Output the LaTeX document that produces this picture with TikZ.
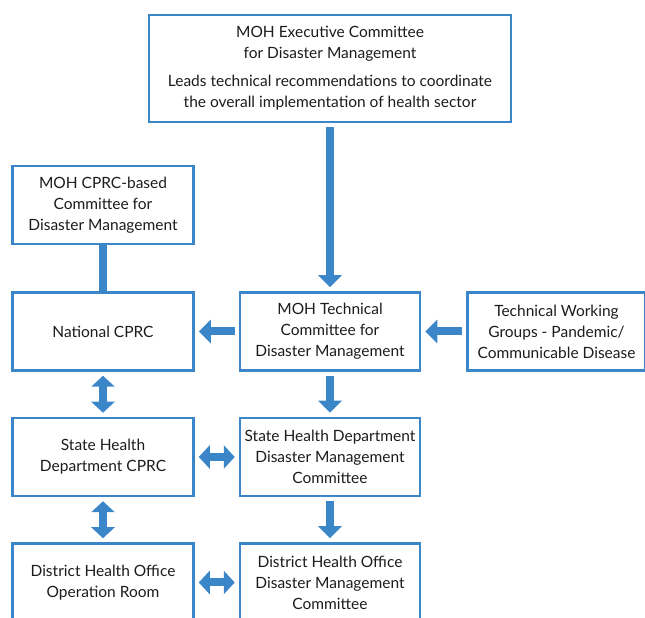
\documentclass[tikz,border=0pt]{standalone}
\usepackage{fontspec}
\setmainfont{Lato}
\usepackage{tikz}
\usetikzlibrary{arrows.meta, positioning}
\definecolor{boxblue}{RGB}{59,134,200}
\definecolor{txtgray}{RGB}{28,28,28}

\begin{document}
\begin{tikzpicture}[
  x=1pt, y=1pt,
  node distance = 45pt and 44pt,
  box/.style = {
    rectangle, draw=boxblue, line width=2.5pt, fill=white,
    minimum width=180pt, minimum height=78pt, inner sep=0pt,
    font=\fontsize{15.5}{21}\selectfont, text=txtgray, align=center
  },
  arr/.style = {-{Triangle[width=23pt, length=12pt]}, line width=8pt,
    draw=boxblue, shorten >=4pt, shorten <=4pt},
  darr/.style = {{Triangle[width=23pt, length=11pt]}-{Triangle[width=23pt, length=11pt]},
    line width=8pt, draw=boxblue, shorten >=4pt, shorten <=4pt},
  link/.style = {draw=boxblue, line width=8pt}
]
\useasboundingbox (0,0) rectangle (645,618);
\clip (0,0) rectangle (645,618);
\node[box, minimum width=362pt, minimum height=107pt] (exec) at (330,549.5)
  {MOH Executive Committee\\for Disaster Management\\[7pt]Leads technical recommendations to coordinate\\the overall implementation of health sector};
\node[box, below=168pt of exec] (tech) {MOH Technical\\Committee for\\Disaster Management};
\node[box, left=of tech, minimum width=181pt] (national) {National CPRC};
\node[box, above=46pt of national, minimum width=181pt] (cprcbased) {MOH CPRC-based\\Committee for\\Disaster Management};
\node[box, right=45pt of tech, minimum width=178pt] (twg) {Technical Working\\Groups - Pandemic/\\Communicable Disease};
\node[box, below=of national, minimum width=181pt] (statecprc) {State Health\\Department CPRC};
\node[box, below=of tech] (statedmc) {State Health Department\\Disaster Management\\Committee};
\node[box, below=of statecprc, minimum width=181pt] (districtroom) {District Health Office\\Operation Room};
\node[box, below=of statedmc] (districtdmc) {District Health Office\\Disaster Management\\Committee};
\draw[arr] (exec) -- (tech);
\draw[arr] (tech) -- (national);
\draw[arr] (twg) -- (tech);
\draw[arr] (tech) -- (statedmc);
\draw[arr] (statedmc) -- (districtdmc);
\draw[link] (cprcbased) -- (national);
\draw[darr] (national) -- (statecprc);
\draw[darr] (statecprc) -- (districtroom);
\draw[darr] (statecprc) -- (statedmc);
\draw[darr] (districtroom) -- (districtdmc);
\end{tikzpicture}
\end{document}
